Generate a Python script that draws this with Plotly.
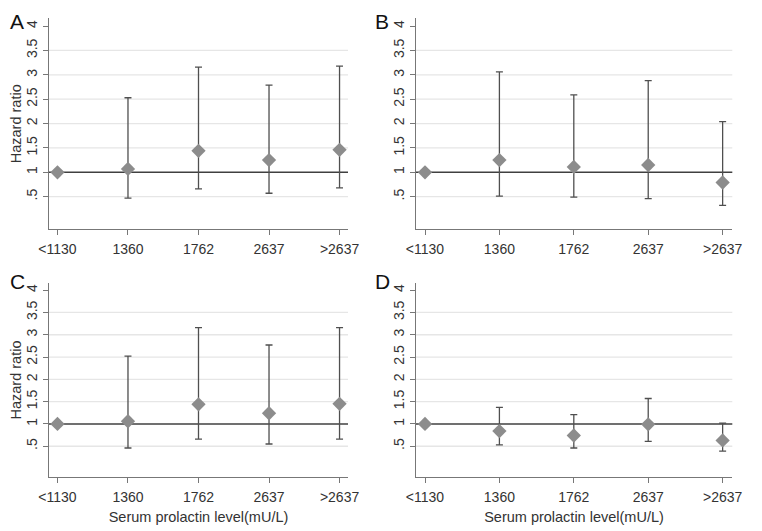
import plotly.graph_objects as go

categories = ["<1130", "1360", "1762", "2637", ">2637"]
ytick_vals = [0.5, 1, 1.5, 2, 2.5, 3, 3.5, 4]
ytick_text = [".5", "1", "1.5", "2", "2.5", "3", "3.5", "4"]
grid_vals = [0.5, 1.5, 2, 2.5, 3, 3.5]
ref_value = 1

panel_labels = ["A", "B", "C", "D"]

hr_A = [1.0, 1.07, 1.44, 1.25, 1.46]
lo_A = [None, 0.47, 0.66, 0.57, 0.68]
hi_A = [None, 2.53, 3.16, 2.79, 3.18]

hr_B = [1.0, 1.25, 1.11, 1.15, 0.79]
lo_B = [None, 0.51, 0.49, 0.46, 0.32]
hi_B = [None, 3.06, 2.59, 2.88, 2.04]

hr_C = [1.0, 1.06, 1.44, 1.24, 1.45]
lo_C = [None, 0.46, 0.66, 0.55, 0.66]
hi_C = [None, 2.52, 3.16, 2.77, 3.16]

hr_D = [1.0, 0.84, 0.74, 0.99, 0.63]
lo_D = [None, 0.53, 0.46, 0.61, 0.39]
hi_D = [None, 1.37, 1.21, 1.57, 1.02]

panels = [(hr_A, lo_A, hi_A), (hr_B, lo_B, hi_B), (hr_C, lo_C, hi_C), (hr_D, lo_D, hi_D)]

# The page body has an 8px default margin, so the figure is sized/offset to fit.
OFF = 8
W, H = 762 - OFF, 531 - OFF


def px(v):
    return (v - OFF) / W


def py(v):
    return 1 - (v - OFF) / H


xdom = [[px(49), px(348)], [px(415.7), px(732.3)], [px(49), px(348)], [px(415.7), px(732.3)]]
ydom = [[py(229.3), py(18.3)], [py(229.3), py(18.3)],
        [py(477), py(283)], [py(477), py(283)]]
yranges = [[-0.17, 4.16], [-0.17, 4.16], [-0.19, 4.16], [-0.19, 4.16]]
xranges = [[0.88, 5.12], [0.875, 5.13], [0.88, 5.12], [0.875, 5.13]]

fig = go.Figure()
font_family = "Liberation Sans, Arial, sans-serif"
FS = 14
layout = dict(
    width=W, height=H, margin=dict(l=0, r=0, t=0, b=0, autoexpand=False),
    paper_bgcolor="white", plot_bgcolor="white", showlegend=False,
    font=dict(family=font_family, size=FS, color="#333333"),
)
shapes = []
annotations = []
xpos = list(range(1, len(categories) + 1))

for i, (hr, lo, hi) in enumerate(panels):
    n = "" if i == 0 else str(i + 1)
    xa, ya = "x" + n, "y" + n
    plus = [None if h is None else h - v for h, v in zip(hi, hr)]
    minus = [None if l is None else v - l for l, v in zip(lo, hr)]
    fig.add_trace(go.Scatter(
        x=xpos, y=hr, mode="markers", xaxis=xa, yaxis=ya,
        marker=dict(symbol="diamond", size=11, color="#8c8c8c", line=dict(width=0)),
        error_y=dict(type="data", symmetric=False, array=plus, arrayminus=minus,
                     color="#4f4f4f", thickness=1.3, width=3.5),
        cliponaxis=False,
    ))
    left = i in (0, 2)
    bottom = i in (2, 3)
    layout["xaxis" + n] = dict(
        domain=xdom[i], range=xranges[i], anchor=ya, automargin=False,
        tickvals=xpos, ticktext=categories, ticks="outside", ticklen=5,
        tickcolor="#777777", showline=True, linecolor="#777777", linewidth=1,
        showgrid=False, zeroline=False, tickfont=dict(size=FS, color="#333333"),
        ticklabelstandoff=2,
        title=dict(text="Serum prolactin level(mU/L)" if bottom else "",
                   font=dict(size=14.5, color="#333333"), standoff=8),
    )
    layout["yaxis" + n] = dict(
        domain=ydom[i], range=yranges[i], anchor=xa, automargin=False,
        tickvals=ytick_vals, ticktext=ytick_text, tickangle=-90,
        ticks="outside", ticklen=5, tickcolor="#777777",
        showline=True, linecolor="#777777", linewidth=1,
        showgrid=False, zeroline=False, tickfont=dict(size=FS, color="#333333"),
        title=dict(text="Hazard ratio" if left else "",
                   font=dict(size=14.5, color="#333333"), standoff=2),
    )
    for g in grid_vals:
        shapes.append(dict(type="line", xref=xa + " domain", yref=ya,
                           x0=0, x1=1, y0=g, y1=g, layer="below",
                           line=dict(color="#e6e6e6", width=1.3)))
    shapes.append(dict(type="line", xref=xa + " domain", yref=ya,
                       x0=0, x1=1, y0=ref_value, y1=ref_value, layer="below",
                       line=dict(color="#404040", width=1.5)))
    annotations.append(dict(
        text=panel_labels[i], xref="paper", yref="paper",
        x=max(px(3 if left else 373), 0), y=min(py(3 if i < 2 else 268), 1),
        xanchor="left", yanchor="top", showarrow=False,
        font=dict(size=21, color="#111111"),
    ))

layout["shapes"] = shapes
layout["annotations"] = annotations
fig.update_layout(**layout)
fig.write_html("out.html")
